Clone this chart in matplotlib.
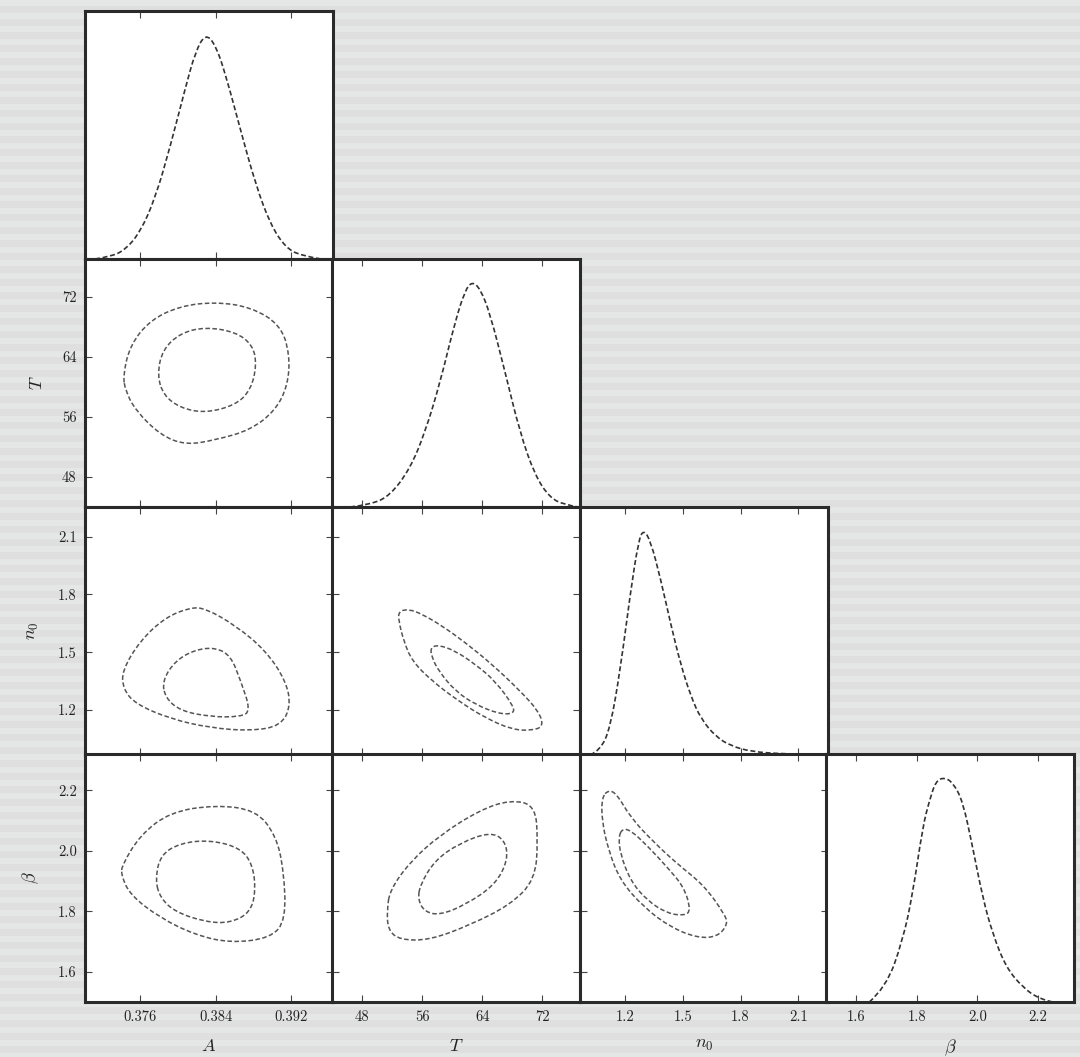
import numpy as np
import matplotlib
matplotlib.use("Agg")
import matplotlib.pyplot as plt
from matplotlib.path import Path
from matplotlib.patches import PathPatch

plt.rcParams['mathtext.fontset'] = 'cm'
plt.rcParams['font.family'] = ['cmr10', 'DejaVu Serif']
plt.rcParams['axes.formatter.use_mathtext'] = True

# ---------------- data ----------------
param_labels = [r'$A$', r'$T$', r'$n_0$', r'$\beta$']
param_ranges = [(0.3701, 0.3965), (44.0, 77.0), (0.965, 2.255), (1.50, 2.32)]
tick_values = [[0.376, 0.384, 0.392], [48, 56, 64, 72], [1.2, 1.5, 1.8, 2.1], [1.6, 1.8, 2.0, 2.2]]
tick_labels = [['0.376', '0.384', '0.392'], ['48', '56', '64', '72'],
               ['1.2', '1.5', '1.8', '2.1'], ['1.6', '1.8', '2.0', '2.2']]

# 1D marginals (normalised to peak = 1)
A_x = [0.37117, 0.37277, 0.37438, 0.37598, 0.37758, 0.37918, 0.38079, 0.38186, 0.38293,
       0.38399, 0.38506, 0.38667, 0.38827, 0.38987, 0.39148, 0.39308, 0.39522]
A_p = [0.0, 0.01, 0.04, 0.12, 0.27, 0.50, 0.76, 0.92, 1.0, 0.95, 0.82, 0.57, 0.33, 0.15, 0.05, 0.015, 0.0]

T_x = [46.40, 49.06, 51.72, 54.38, 56.37, 58.37, 60.36, 61.70, 62.63, 63.69, 65.02, 67.02,
       69.01, 71.01, 73.01, 75.00, 76.73]
T_p = [0.0, 0.01, 0.05, 0.17, 0.33, 0.55, 0.82, 0.96, 1.0, 0.97, 0.86, 0.60, 0.33, 0.14, 0.04, 0.01, 0.0]

n0_x = [1.0174, 1.0699, 1.1223, 1.1748, 1.2272, 1.2692, 1.2954, 1.3321, 1.3845, 1.4370, 1.4894,
        1.5418, 1.5943, 1.6729, 1.7516, 1.8565, 2.0138, 2.2236]
n0_p = [0.0, 0.02, 0.12, 0.38, 0.72, 0.95, 1.0, 0.95, 0.78, 0.58, 0.40, 0.26, 0.16, 0.08, 0.04,
        0.015, 0.005, 0.0]

beta_x = [1.6433, 1.6984, 1.7535, 1.7866, 1.8196, 1.8417, 1.8637, 1.8913, 1.9188, 1.9519, 1.9850,
          2.0180, 2.0511, 2.0952, 2.1503, 2.2054, 2.2495]
beta_p = [0.0, 0.065, 0.272, 0.479, 0.775, 0.893, 0.981, 0.996, 0.974, 0.893, 0.686, 0.464, 0.302,
          0.154, 0.065, 0.013, 0.0]

# 2D credible contours (outer = 95%, inner = 68%), vertices in data units
AT_outer_A = [0.37416, 0.37491, 0.37705, 0.38025, 0.38399, 0.38774, 0.39094, 0.39190, 0.39169,
              0.39041, 0.38774, 0.38399, 0.38079, 0.37812, 0.37544, 0.37438]
AT_outer_T = [61.57, 65.56, 68.88, 70.75, 71.28, 70.61, 68.22, 64.23, 60.23, 56.91, 54.25, 52.92,
              52.25, 53.58, 56.91, 59.57]
AT_inner_A = [0.37780, 0.37833, 0.38025, 0.38293, 0.38613, 0.38795, 0.38838, 0.38774, 0.38613,
              0.38293, 0.38025, 0.37844]
AT_inner_T = [61.57, 64.89, 67.15, 67.95, 67.29, 65.56, 62.90, 59.57, 57.57, 56.51, 57.17, 58.90]

An_outer_A = [0.37405, 0.37598, 0.37865, 0.38132, 0.38293, 0.38613, 0.38934, 0.39148, 0.39201,
              0.39094, 0.38774, 0.38346, 0.37918, 0.37544, 0.37416]
An_outer_n = [1.4037, 1.5603, 1.6805, 1.7327, 1.7275, 1.6387, 1.5081, 1.3514, 1.2208, 1.1164,
              1.0903, 1.1059, 1.1530, 1.2313, 1.3097]
An_inner_A = [0.37833, 0.37972, 0.38186, 0.38399, 0.38560, 0.38667, 0.38774, 0.38667, 0.38346,
              0.38025, 0.37865]
An_inner_n = [1.3514, 1.4559, 1.5133, 1.5238, 1.4820, 1.3514, 1.1948, 1.1634, 1.1634, 1.1948, 1.2627]

Ab_outer_A = [0.37405, 0.37598, 0.37918, 0.38399, 0.38827, 0.39041, 0.39126, 0.39148, 0.38987,
              0.38560, 0.38186, 0.37812, 0.37491, 0.37395]
Ab_outer_b = [1.9530, 2.0522, 2.1282, 2.1514, 2.1348, 2.0522, 1.9364, 1.7711, 1.7116, 1.6951,
              1.7215, 1.7777, 1.8538, 1.9199]
Ab_inner_A = [0.37758, 0.37812, 0.38025, 0.38346, 0.38667, 0.38795, 0.38827, 0.38774, 0.38560,
              0.38293, 0.37972, 0.37812]
Ab_inner_b = [1.9034, 1.9860, 2.0257, 2.0356, 2.0092, 1.9530, 1.8703, 1.7976, 1.7612, 1.7645,
              1.7976, 1.8439]

Tn_outer_T = [52.87, 54.20, 55.98, 58.64, 61.74, 65.29, 68.84, 71.50, 72.16, 70.61, 67.95, 64.40,
              60.85, 57.31, 54.64, 53.54, 52.87]
Tn_outer_n = [1.7118, 1.7240, 1.6979, 1.6369, 1.5499, 1.4367, 1.3062, 1.1930, 1.1146, 1.0920,
              1.0972, 1.1582, 1.2452, 1.3497, 1.4541, 1.5586, 1.6631]
Tn_inner_T = [57.08, 58.19, 60.41, 63.07, 65.73, 68.17, 68.17, 66.18, 63.07, 60.41, 58.19, 57.31]
Tn_inner_n = [1.5238, 1.5377, 1.5064, 1.4367, 1.3497, 1.2191, 1.1791, 1.1791, 1.2278, 1.2974,
              1.4019, 1.4715]

Tb_outer_T = [51.72, 54.38, 58.37, 63.69, 67.68, 71.01, 71.41, 71.01, 67.68, 62.36, 57.04, 53.05,
              51.45, 51.32]
Tb_outer_b = [1.8703, 1.9629, 2.0522, 2.1348, 2.1679, 2.1514, 2.0356, 1.9034, 1.8207, 1.7546,
              1.7050, 1.7050, 1.7381, 1.8042]
Tb_inner_T = [55.71, 57.71, 61.03, 65.02, 67.02, 67.42, 65.69, 61.70, 58.37, 56.37, 55.44]
Tb_inner_b = [1.8868, 1.9695, 2.0257, 2.0621, 2.0356, 1.9695, 1.8868, 1.8207, 1.7877, 1.7976, 1.8372]

nb_outer_n = [1.1136, 1.1573, 1.2272, 1.3496, 1.4719, 1.6118, 1.7166, 1.7341, 1.6817, 1.5768,
              1.4370, 1.2971, 1.1748, 1.1136, 1.0786, 1.0786]
nb_outer_b = [2.2010, 2.1877, 2.1106, 2.0279, 1.9563, 1.8846, 1.7909, 1.7579, 1.7160, 1.7116,
              1.7469, 1.8130, 1.9012, 2.0004, 2.0996, 2.1767]
nb_inner_n = [1.1835, 1.2272, 1.3146, 1.4195, 1.5069, 1.5418, 1.5069, 1.4195, 1.3146, 1.2272,
              1.1748, 1.1660]
nb_inner_b = [2.0720, 2.0687, 2.0169, 1.9453, 1.8791, 1.8020, 1.7854, 1.7931, 1.8350, 1.9012,
              1.9893, 2.0444]

marginals = {0: (A_x, A_p), 1: (T_x, T_p), 2: (n0_x, n0_p), 3: (beta_x, beta_p)}
contours = {
    (1, 0): [(AT_outer_A, AT_outer_T), (AT_inner_A, AT_inner_T)],
    (2, 0): [(An_outer_A, An_outer_n), (An_inner_A, An_inner_n)],
    (3, 0): [(Ab_outer_A, Ab_outer_b), (Ab_inner_A, Ab_inner_b)],
    (2, 1): [(Tn_outer_T, Tn_outer_n), (Tn_inner_T, Tn_inner_n)],
    (3, 1): [(Tb_outer_T, Tb_outer_b), (Tb_inner_T, Tb_inner_b)],
    (3, 2): [(nb_outer_n, nb_outer_b), (nb_inner_n, nb_inner_b)],
}


def smooth_path(xs, ys, closed):
    """Quadratic-Bezier path through the read vertices (vertices act as control points)."""
    p = list(zip(xs, ys))
    verts, codes = [], []
    if closed:
        n = len(p)
        mids = [((p[k][0] + p[(k + 1) % n][0]) / 2, (p[k][1] + p[(k + 1) % n][1]) / 2) for k in range(n)]
        verts.append(mids[-1]); codes.append(Path.MOVETO)
        for k in range(n):
            verts += [p[k], mids[k]]
            codes += [Path.CURVE3, Path.CURVE3]
    else:
        verts.append(p[0]); codes.append(Path.MOVETO)
        for k in range(1, len(p) - 1):
            mid = ((p[k][0] + p[k + 1][0]) / 2, (p[k][1] + p[k + 1][1]) / 2)
            end = mid if k < len(p) - 2 else p[-1]
            verts += [p[k], end]
            codes += [Path.CURVE3, Path.CURVE3]
    return Path(verts, codes)


# ---------------- figure ----------------
W, H = 1080, 1057
fig = plt.figure(figsize=(W / 100, H / 100), dpi=100)

# striped grey backdrop
bg = fig.add_axes([0, 0, 1, 1], zorder=-10)
rows = np.arange(H)
phase = (rows % 13) / 13.0
v = np.where(phase < 0.45, 0.900, 0.872)
img = np.stack([v, v + 0.006, v + 0.002], axis=1)[:, None, :].repeat(4, axis=1)
bg.imshow(np.clip(img, 0, 1), aspect='auto', extent=[0, 1, 0, 1], interpolation='bilinear')
bg.set_axis_off()

col_left = [85, 332, 580, 826]
row_top = [11, 259, 507, 754]
pw, ph = 248, 248

dash = (0, (3.0, 1.6))
spine_col = '#2a2a2a'

for i in range(4):
    for j in range(i + 1):
        ax = fig.add_axes([col_left[j] / W, (H - row_top[i] - ph) / H, pw / W, ph / H])
        ax.set_facecolor('white')
        for s in ax.spines.values():
            s.set_color(spine_col)
            s.set_linewidth(2.2)
        ax.set_xlim(*param_ranges[j])
        ax.set_xticks(tick_values[j])
        ax.tick_params(direction='in', length=5, width=0.8, color='#444444',
                       top=True, bottom=True, labelsize=10.5, labelcolor='#222222', pad=6)
        if i == 3:
            ax.set_xticklabels(tick_labels[j])
            ax.set_xlabel(param_labels[j], fontsize=13, labelpad=10, color='#222222')
        else:
            ax.set_xticklabels([])
        if i == j:
            xs, ps = marginals[i]
            ax.add_patch(PathPatch(smooth_path(xs, ps, False), fill=False,
                                   edgecolor='#333333', lw=1.2, ls=dash))
            ax.set_ylim(0, 1.1)
            ax.set_yticks([])
        else:
            for (cx, cy) in contours[(i, j)]:
                ax.add_patch(PathPatch(smooth_path(cx, cy, True), fill=False,
                                       edgecolor='#555555', lw=1.1, ls=dash))
            ax.set_ylim(*param_ranges[i])
            ax.set_yticks(tick_values[i])
            ax.tick_params(axis='y', left=True, right=True)
            if j == 0:
                ax.set_yticklabels(tick_labels[i])
                ax.set_ylabel(param_labels[i], fontsize=13, labelpad=12, color='#222222')
            else:
                ax.set_yticklabels([])

fig.savefig('out.png', dpi=100)
